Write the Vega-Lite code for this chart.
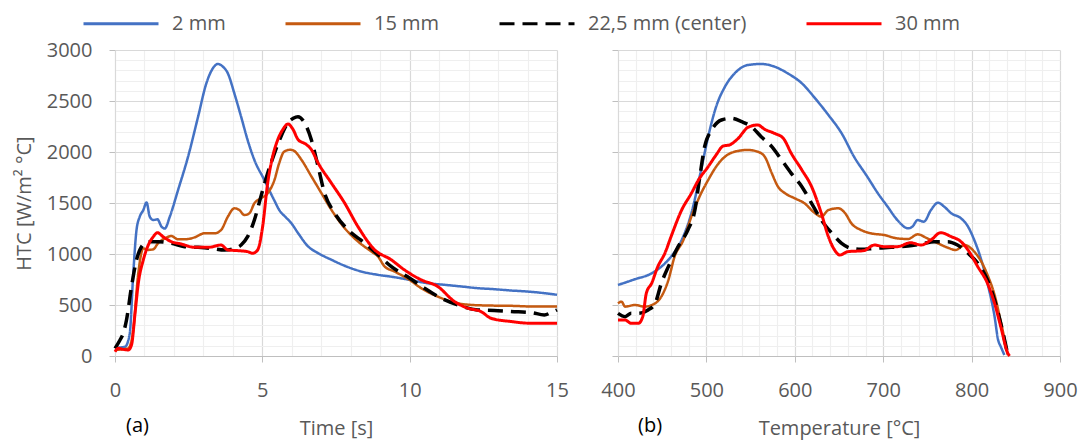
{
  "$schema": "https://vega.github.io/schema/vega-lite/v6.json",
  "padding": {"left": 14, "top": 12, "right": 5, "bottom": 2},
  "config": {
    "font": "Open Sans",
    "view": {"stroke": null},
    "axis": {
      "labelFont": "Open Sans", "labelFontSize": 20, "labelColor": "#595959",
      "titleFont": "Open Sans", "titleFontSize": 20, "titleColor": "#595959", "titleFontWeight": "normal",
      "domainColor": "#bfbfbf", "tickColor": "#bfbfbf", "labelFlush": false, "labelOverlap": false,
      "gridWidth": 1.2
    },
    "legend": {
      "orient": "none", "legendX": -33, "legendY": -38, "direction": "horizontal",
      "symbolType": "M-1,0H6.5", "symbolSize": 400,
      "symbolStrokeWidth": 3, "labelFont": "Open Sans", "labelFontSize": 20, "labelColor": "#595959",
      "columnPadding": 53, "labelOffset": 67, "padding": 0
    },
    "title": {"font": "Open Sans", "fontSize": 20, "fontWeight": "normal", "color": "#000000"},
    "concat": {"spacing": 31}
  },
  "datasets": {
    "time": [
      {"series": "2 mm", "t": 0, "htc": 80}, {"series": "2 mm", "t": 0.34, "htc": 90}, {"series": "2 mm", "t": 0.5, "htc": 220},
      {"series": "2 mm", "t": 0.62, "htc": 810}, {"series": "2 mm", "t": 0.73, "htc": 1235}, {"series": "2 mm", "t": 0.84, "htc": 1366},
      {"series": "2 mm", "t": 0.96, "htc": 1430}, {"series": "2 mm", "t": 1.07, "htc": 1506}, {"series": "2 mm", "t": 1.18, "htc": 1366},
      {"series": "2 mm", "t": 1.3, "htc": 1333}, {"series": "2 mm", "t": 1.44, "htc": 1340}, {"series": "2 mm", "t": 1.58, "htc": 1268},
      {"series": "2 mm", "t": 1.69, "htc": 1250}, {"series": "2 mm", "t": 1.86, "htc": 1366}, {"series": "2 mm", "t": 2.14, "htc": 1627},
      {"series": "2 mm", "t": 2.48, "htc": 1954}, {"series": "2 mm", "t": 2.82, "htc": 2346}, {"series": "2 mm", "t": 3.1, "htc": 2673},
      {"series": "2 mm", "t": 3.32, "htc": 2820}, {"series": "2 mm", "t": 3.49, "htc": 2863}, {"series": "2 mm", "t": 3.66, "htc": 2837},
      {"series": "2 mm", "t": 3.83, "htc": 2771}, {"series": "2 mm", "t": 4.05, "htc": 2575}, {"series": "2 mm", "t": 4.28, "htc": 2346},
      {"series": "2 mm", "t": 4.5, "htc": 2118}, {"series": "2 mm", "t": 4.73, "htc": 1922}, {"series": "2 mm", "t": 5.07, "htc": 1725},
      {"series": "2 mm", "t": 5.4, "htc": 1529}, {"series": "2 mm", "t": 5.6, "htc": 1420}, {"series": "2 mm", "t": 5.76, "htc": 1370},
      {"series": "2 mm", "t": 5.98, "htc": 1304}, {"series": "2 mm", "t": 6.21, "htc": 1206}, {"series": "2 mm", "t": 6.55, "htc": 1075},
      {"series": "2 mm", "t": 6.89, "htc": 1009}, {"series": "2 mm", "t": 7.34, "htc": 944}, {"series": "2 mm", "t": 7.79, "htc": 885},
      {"series": "2 mm", "t": 8.35, "htc": 829}, {"series": "2 mm", "t": 8.92, "htc": 796}, {"series": "2 mm", "t": 9.48, "htc": 773},
      {"series": "2 mm", "t": 9.99, "htc": 747}, {"series": "2 mm", "t": 10.6, "htc": 714}, {"series": "2 mm", "t": 11.18, "htc": 698},
      {"series": "2 mm", "t": 11.74, "htc": 682}, {"series": "2 mm", "t": 12.31, "htc": 665}, {"series": "2 mm", "t": 12.87, "htc": 655},
      {"series": "2 mm", "t": 13.44, "htc": 642}, {"series": "2 mm", "t": 14.0, "htc": 632}, {"series": "2 mm", "t": 14.57, "htc": 616},
      {"series": "2 mm", "t": 15, "htc": 600},

      {"series": "15 mm", "t": 0, "htc": 60}, {"series": "15 mm", "t": 0.45, "htc": 75}, {"series": "15 mm", "t": 0.62, "htc": 255},
      {"series": "15 mm", "t": 0.79, "htc": 810}, {"series": "15 mm", "t": 0.96, "htc": 1055}, {"series": "15 mm", "t": 1.13, "htc": 1040},
      {"series": "15 mm", "t": 1.3, "htc": 1046}, {"series": "15 mm", "t": 1.46, "htc": 1105}, {"series": "15 mm", "t": 1.69, "htc": 1153},
      {"series": "15 mm", "t": 1.91, "htc": 1176}, {"series": "15 mm", "t": 2.14, "htc": 1144}, {"series": "15 mm", "t": 2.36, "htc": 1144},
      {"series": "15 mm", "t": 2.7, "htc": 1163}, {"series": "15 mm", "t": 3.04, "htc": 1203}, {"series": "15 mm", "t": 3.38, "htc": 1203},
      {"series": "15 mm", "t": 3.6, "htc": 1235}, {"series": "15 mm", "t": 3.83, "htc": 1366}, {"series": "15 mm", "t": 4.05, "htc": 1448},
      {"series": "15 mm", "t": 4.22, "htc": 1431}, {"series": "15 mm", "t": 4.39, "htc": 1382}, {"series": "15 mm", "t": 4.56, "htc": 1399},
      {"series": "15 mm", "t": 4.73, "htc": 1497}, {"series": "15 mm", "t": 4.95, "htc": 1546}, {"series": "15 mm", "t": 5.18, "htc": 1595},
      {"series": "15 mm", "t": 5.41, "htc": 1725}, {"series": "15 mm", "t": 5.57, "htc": 1889}, {"series": "15 mm", "t": 5.74, "htc": 2003},
      {"series": "15 mm", "t": 5.95, "htc": 2022}, {"series": "15 mm", "t": 6.09, "htc": 2009}, {"series": "15 mm", "t": 6.32, "htc": 1927},
      {"series": "15 mm", "t": 6.66, "htc": 1763}, {"series": "15 mm", "t": 7.0, "htc": 1599}, {"series": "15 mm", "t": 7.34, "htc": 1435},
      {"series": "15 mm", "t": 7.79, "htc": 1255}, {"series": "15 mm", "t": 8.24, "htc": 1124}, {"series": "15 mm", "t": 8.69, "htc": 1026},
      {"series": "15 mm", "t": 8.92, "htc": 977}, {"series": "15 mm", "t": 9.15, "htc": 878}, {"series": "15 mm", "t": 9.48, "htc": 829},
      {"series": "15 mm", "t": 9.99, "htc": 747}, {"series": "15 mm", "t": 10.39, "htc": 665}, {"series": "15 mm", "t": 10.95, "htc": 583},
      {"series": "15 mm", "t": 11.52, "htc": 524}, {"series": "15 mm", "t": 12.08, "htc": 501}, {"series": "15 mm", "t": 12.65, "htc": 495},
      {"series": "15 mm", "t": 13.44, "htc": 492}, {"series": "15 mm", "t": 14.23, "htc": 485}, {"series": "15 mm", "t": 15, "htc": 485},

      {"series": "22,5 mm (center)", "t": 0, "htc": 75}, {"series": "22,5 mm (center)", "t": 0.17, "htc": 157}, {"series": "22,5 mm (center)", "t": 0.28, "htc": 222},
      {"series": "22,5 mm (center)", "t": 0.39, "htc": 353}, {"series": "22,5 mm (center)", "t": 0.56, "htc": 680}, {"series": "22,5 mm (center)", "t": 0.73, "htc": 941},
      {"series": "22,5 mm (center)", "t": 0.9, "htc": 1072}, {"series": "22,5 mm (center)", "t": 1.13, "htc": 1121}, {"series": "22,5 mm (center)", "t": 1.46, "htc": 1121},
      {"series": "22,5 mm (center)", "t": 1.91, "htc": 1105}, {"series": "22,5 mm (center)", "t": 2.36, "htc": 1072}, {"series": "22,5 mm (center)", "t": 2.82, "htc": 1065},
      {"series": "22,5 mm (center)", "t": 3.27, "htc": 1055}, {"series": "22,5 mm (center)", "t": 3.72, "htc": 1039}, {"series": "22,5 mm (center)", "t": 4.05, "htc": 1055},
      {"series": "22,5 mm (center)", "t": 4.28, "htc": 1088}, {"series": "22,5 mm (center)", "t": 4.5, "htc": 1170}, {"series": "22,5 mm (center)", "t": 4.73, "htc": 1333},
      {"series": "22,5 mm (center)", "t": 4.95, "htc": 1562}, {"series": "22,5 mm (center)", "t": 5.18, "htc": 1791}, {"series": "22,5 mm (center)", "t": 5.41, "htc": 1987},
      {"series": "22,5 mm (center)", "t": 5.63, "htc": 2150}, {"series": "22,5 mm (center)", "t": 5.86, "htc": 2281}, {"series": "22,5 mm (center)", "t": 6.05, "htc": 2330},
      {"series": "22,5 mm (center)", "t": 6.21, "htc": 2346}, {"series": "22,5 mm (center)", "t": 6.43, "htc": 2287}, {"series": "22,5 mm (center)", "t": 6.66, "htc": 2123},
      {"series": "22,5 mm (center)", "t": 6.89, "htc": 1861}, {"series": "22,5 mm (center)", "t": 7.11, "htc": 1599}, {"series": "22,5 mm (center)", "t": 7.45, "htc": 1403},
      {"series": "22,5 mm (center)", "t": 7.9, "htc": 1239}, {"series": "22,5 mm (center)", "t": 8.47, "htc": 1108}, {"series": "22,5 mm (center)", "t": 8.92, "htc": 993},
      {"series": "22,5 mm (center)", "t": 9.37, "htc": 878}, {"series": "22,5 mm (center)", "t": 9.99, "htc": 764}, {"series": "22,5 mm (center)", "t": 10.5, "htc": 665},
      {"series": "22,5 mm (center)", "t": 11.07, "htc": 567}, {"series": "22,5 mm (center)", "t": 11.63, "htc": 501}, {"series": "22,5 mm (center)", "t": 12.31, "htc": 452},
      {"series": "22,5 mm (center)", "t": 12.87, "htc": 446}, {"series": "22,5 mm (center)", "t": 13.44, "htc": 436}, {"series": "22,5 mm (center)", "t": 14.12, "htc": 426},
      {"series": "22,5 mm (center)", "t": 14.57, "htc": 403}, {"series": "22,5 mm (center)", "t": 14.8, "htc": 426}, {"series": "22,5 mm (center)", "t": 15, "htc": 452},

      {"series": "30 mm", "t": 0, "htc": 42}, {"series": "30 mm", "t": 0.11, "htc": 75}, {"series": "30 mm", "t": 0.28, "htc": 65},
      {"series": "30 mm", "t": 0.45, "htc": 59}, {"series": "30 mm", "t": 0.56, "htc": 108}, {"series": "30 mm", "t": 0.68, "htc": 418},
      {"series": "30 mm", "t": 0.79, "htc": 712}, {"series": "30 mm", "t": 0.96, "htc": 941}, {"series": "30 mm", "t": 1.13, "htc": 1088},
      {"series": "30 mm", "t": 1.3, "htc": 1170}, {"series": "30 mm", "t": 1.44, "htc": 1209}, {"series": "30 mm", "t": 1.63, "htc": 1170},
      {"series": "30 mm", "t": 1.91, "htc": 1121}, {"series": "30 mm", "t": 2.25, "htc": 1098}, {"series": "30 mm", "t": 2.7, "htc": 1065},
      {"series": "30 mm", "t": 3.15, "htc": 1065}, {"series": "30 mm", "t": 3.6, "htc": 1088}, {"series": "30 mm", "t": 3.83, "htc": 1039},
      {"series": "30 mm", "t": 4.17, "htc": 1033}, {"series": "30 mm", "t": 4.5, "htc": 1023}, {"series": "30 mm", "t": 4.67, "htc": 1007},
      {"series": "30 mm", "t": 4.84, "htc": 1039}, {"series": "30 mm", "t": 5.01, "htc": 1268}, {"series": "30 mm", "t": 5.18, "htc": 1693},
      {"series": "30 mm", "t": 5.35, "htc": 1954}, {"series": "30 mm", "t": 5.52, "htc": 2118}, {"series": "30 mm", "t": 5.7, "htc": 2222},
      {"series": "30 mm", "t": 5.87, "htc": 2275}, {"series": "30 mm", "t": 6.04, "htc": 2222}, {"series": "30 mm", "t": 6.21, "htc": 2123},
      {"series": "30 mm", "t": 6.49, "htc": 2074}, {"series": "30 mm", "t": 6.66, "htc": 2025}, {"series": "30 mm", "t": 6.89, "htc": 1894},
      {"series": "30 mm", "t": 7.34, "htc": 1697}, {"series": "30 mm", "t": 7.79, "htc": 1501}, {"series": "30 mm", "t": 8.24, "htc": 1271},
      {"series": "30 mm", "t": 8.81, "htc": 1042}, {"series": "30 mm", "t": 9.37, "htc": 944}, {"series": "30 mm", "t": 9.82, "htc": 845},
      {"series": "30 mm", "t": 10.39, "htc": 747}, {"series": "30 mm", "t": 10.95, "htc": 682}, {"series": "30 mm", "t": 11.52, "htc": 534},
      {"series": "30 mm", "t": 11.97, "htc": 469}, {"series": "30 mm", "t": 12.42, "htc": 436}, {"series": "30 mm", "t": 12.76, "htc": 370},
      {"series": "30 mm", "t": 13.44, "htc": 338}, {"series": "30 mm", "t": 14.12, "htc": 321}, {"series": "30 mm", "t": 15, "htc": 321}
    ],
    "temp": [
      {"series": "2 mm", "temp": 400, "htc": 696}, {"series": "2 mm", "temp": 419, "htc": 752}, {"series": "2 mm", "temp": 438, "htc": 810},
      {"series": "2 mm", "temp": 449, "htc": 876}, {"series": "2 mm", "temp": 460, "htc": 974}, {"series": "2 mm", "temp": 472, "htc": 1137},
      {"series": "2 mm", "temp": 483, "htc": 1399}, {"series": "2 mm", "temp": 494, "htc": 1824}, {"series": "2 mm", "temp": 502, "htc": 2150},
      {"series": "2 mm", "temp": 511, "htc": 2444}, {"series": "2 mm", "temp": 521, "htc": 2640}, {"series": "2 mm", "temp": 532, "htc": 2771},
      {"series": "2 mm", "temp": 547, "htc": 2853}, {"series": "2 mm", "temp": 562, "htc": 2863}, {"series": "2 mm", "temp": 577, "htc": 2837},
      {"series": "2 mm", "temp": 592, "htc": 2771}, {"series": "2 mm", "temp": 608, "htc": 2673}, {"series": "2 mm", "temp": 623, "htc": 2526},
      {"series": "2 mm", "temp": 638, "htc": 2363}, {"series": "2 mm", "temp": 653, "htc": 2183}, {"series": "2 mm", "temp": 667, "htc": 1954},
      {"series": "2 mm", "temp": 682, "htc": 1758}, {"series": "2 mm", "temp": 694, "htc": 1595}, {"series": "2 mm", "temp": 705, "htc": 1464},
      {"series": "2 mm", "temp": 716, "htc": 1333}, {"series": "2 mm", "temp": 728, "htc": 1252}, {"series": "2 mm", "temp": 733, "htc": 1268},
      {"series": "2 mm", "temp": 739, "htc": 1333}, {"series": "2 mm", "temp": 746, "htc": 1317}, {"series": "2 mm", "temp": 754, "htc": 1431},
      {"series": "2 mm", "temp": 762, "htc": 1503}, {"series": "2 mm", "temp": 769, "htc": 1464}, {"series": "2 mm", "temp": 777, "htc": 1399},
      {"series": "2 mm", "temp": 788, "htc": 1350}, {"series": "2 mm", "temp": 796, "htc": 1268}, {"series": "2 mm", "temp": 803, "htc": 1137},
      {"series": "2 mm", "temp": 811, "htc": 941}, {"series": "2 mm", "temp": 818, "htc": 712}, {"series": "2 mm", "temp": 826, "htc": 386},
      {"series": "2 mm", "temp": 830, "htc": 157}, {"series": "2 mm", "temp": 833, "htc": 92}, {"series": "2 mm", "temp": 837, "htc": 10},

      {"series": "15 mm", "temp": 400, "htc": 516}, {"series": "15 mm", "temp": 404, "htc": 533}, {"series": "15 mm", "temp": 408, "htc": 484},
      {"series": "15 mm", "temp": 419, "htc": 500}, {"series": "15 mm", "temp": 430, "htc": 484}, {"series": "15 mm", "temp": 442, "htc": 516},
      {"series": "15 mm", "temp": 449, "htc": 582}, {"series": "15 mm", "temp": 457, "htc": 745}, {"series": "15 mm", "temp": 464, "htc": 974},
      {"series": "15 mm", "temp": 474, "htc": 1137}, {"series": "15 mm", "temp": 483, "htc": 1366}, {"series": "15 mm", "temp": 494, "htc": 1595},
      {"series": "15 mm", "temp": 502, "htc": 1725}, {"series": "15 mm", "temp": 511, "htc": 1856}, {"series": "15 mm", "temp": 521, "htc": 1954},
      {"series": "15 mm", "temp": 532, "htc": 2003}, {"series": "15 mm", "temp": 547, "htc": 2020}, {"series": "15 mm", "temp": 558, "htc": 2003},
      {"series": "15 mm", "temp": 566, "htc": 1954}, {"series": "15 mm", "temp": 574, "htc": 1791}, {"series": "15 mm", "temp": 581, "htc": 1660},
      {"series": "15 mm", "temp": 589, "htc": 1595}, {"series": "15 mm", "temp": 600, "htc": 1546}, {"series": "15 mm", "temp": 611, "htc": 1497},
      {"series": "15 mm", "temp": 623, "htc": 1399}, {"series": "15 mm", "temp": 630, "htc": 1366}, {"series": "15 mm", "temp": 638, "htc": 1431},
      {"series": "15 mm", "temp": 649, "htc": 1448}, {"series": "15 mm", "temp": 657, "htc": 1399}, {"series": "15 mm", "temp": 664, "htc": 1301},
      {"series": "15 mm", "temp": 675, "htc": 1235}, {"series": "15 mm", "temp": 686, "htc": 1203}, {"series": "15 mm", "temp": 701, "htc": 1186},
      {"series": "15 mm", "temp": 716, "htc": 1153}, {"series": "15 mm", "temp": 728, "htc": 1147}, {"series": "15 mm", "temp": 739, "htc": 1193},
      {"series": "15 mm", "temp": 750, "htc": 1153}, {"series": "15 mm", "temp": 762, "htc": 1104}, {"series": "15 mm", "temp": 773, "htc": 1062},
      {"series": "15 mm", "temp": 782, "htc": 1039}, {"series": "15 mm", "temp": 792, "htc": 1088}, {"series": "15 mm", "temp": 803, "htc": 1023},
      {"series": "15 mm", "temp": 811, "htc": 925}, {"series": "15 mm", "temp": 818, "htc": 794}, {"series": "15 mm", "temp": 826, "htc": 598},
      {"series": "15 mm", "temp": 833, "htc": 337}, {"series": "15 mm", "temp": 841, "htc": 10},

      {"series": "22,5 mm (center)", "temp": 400, "htc": 418}, {"series": "22,5 mm (center)", "temp": 408, "htc": 386}, {"series": "22,5 mm (center)", "temp": 415, "htc": 418},
      {"series": "22,5 mm (center)", "temp": 423, "htc": 418}, {"series": "22,5 mm (center)", "temp": 434, "htc": 451}, {"series": "22,5 mm (center)", "temp": 442, "htc": 516},
      {"series": "22,5 mm (center)", "temp": 449, "htc": 712}, {"series": "22,5 mm (center)", "temp": 457, "htc": 876}, {"series": "22,5 mm (center)", "temp": 468, "htc": 1072},
      {"series": "22,5 mm (center)", "temp": 479, "htc": 1235}, {"series": "22,5 mm (center)", "temp": 487, "htc": 1431}, {"series": "22,5 mm (center)", "temp": 492, "htc": 1725},
      {"series": "22,5 mm (center)", "temp": 498, "htc": 2052}, {"series": "22,5 mm (center)", "temp": 506, "htc": 2216}, {"series": "22,5 mm (center)", "temp": 517, "htc": 2314},
      {"series": "22,5 mm (center)", "temp": 528, "htc": 2330}, {"series": "22,5 mm (center)", "temp": 540, "htc": 2297}, {"series": "22,5 mm (center)", "temp": 551, "htc": 2248},
      {"series": "22,5 mm (center)", "temp": 562, "htc": 2150}, {"series": "22,5 mm (center)", "temp": 574, "htc": 2052}, {"series": "22,5 mm (center)", "temp": 585, "htc": 1922},
      {"series": "22,5 mm (center)", "temp": 596, "htc": 1791}, {"series": "22,5 mm (center)", "temp": 608, "htc": 1660}, {"series": "22,5 mm (center)", "temp": 619, "htc": 1497},
      {"series": "22,5 mm (center)", "temp": 630, "htc": 1333}, {"series": "22,5 mm (center)", "temp": 642, "htc": 1203}, {"series": "22,5 mm (center)", "temp": 653, "htc": 1105},
      {"series": "22,5 mm (center)", "temp": 664, "htc": 1055}, {"series": "22,5 mm (center)", "temp": 675, "htc": 1046}, {"series": "22,5 mm (center)", "temp": 690, "htc": 1055},
      {"series": "22,5 mm (center)", "temp": 709, "htc": 1065}, {"series": "22,5 mm (center)", "temp": 728, "htc": 1078}, {"series": "22,5 mm (center)", "temp": 743, "htc": 1098},
      {"series": "22,5 mm (center)", "temp": 758, "htc": 1121}, {"series": "22,5 mm (center)", "temp": 773, "htc": 1121}, {"series": "22,5 mm (center)", "temp": 784, "htc": 1088},
      {"series": "22,5 mm (center)", "temp": 796, "htc": 1007}, {"series": "22,5 mm (center)", "temp": 807, "htc": 910}, {"series": "22,5 mm (center)", "temp": 818, "htc": 745},
      {"series": "22,5 mm (center)", "temp": 826, "htc": 549}, {"series": "22,5 mm (center)", "temp": 833, "htc": 320}, {"series": "22,5 mm (center)", "temp": 841, "htc": 10},

      {"series": "30 mm", "temp": 400, "htc": 353}, {"series": "30 mm", "temp": 408, "htc": 353}, {"series": "30 mm", "temp": 415, "htc": 320},
      {"series": "30 mm", "temp": 423, "htc": 320}, {"series": "30 mm", "temp": 428, "htc": 386}, {"series": "30 mm", "temp": 432, "htc": 614},
      {"series": "30 mm", "temp": 438, "htc": 712}, {"series": "30 mm", "temp": 445, "htc": 876}, {"series": "30 mm", "temp": 453, "htc": 1007},
      {"series": "30 mm", "temp": 460, "htc": 1170}, {"series": "30 mm", "temp": 472, "htc": 1431}, {"series": "30 mm", "temp": 483, "htc": 1595},
      {"series": "30 mm", "temp": 491, "htc": 1725}, {"series": "30 mm", "temp": 502, "htc": 1856}, {"series": "30 mm", "temp": 511, "htc": 1971},
      {"series": "30 mm", "temp": 519, "htc": 2059}, {"series": "30 mm", "temp": 526, "htc": 2069}, {"series": "30 mm", "temp": 536, "htc": 2134},
      {"series": "30 mm", "temp": 547, "htc": 2242}, {"series": "30 mm", "temp": 558, "htc": 2265}, {"series": "30 mm", "temp": 566, "htc": 2222},
      {"series": "30 mm", "temp": 577, "htc": 2183}, {"series": "30 mm", "temp": 587, "htc": 2134}, {"series": "30 mm", "temp": 596, "htc": 1987},
      {"series": "30 mm", "temp": 608, "htc": 1824}, {"series": "30 mm", "temp": 619, "htc": 1660}, {"series": "30 mm", "temp": 630, "htc": 1399},
      {"series": "30 mm", "temp": 638, "htc": 1170}, {"series": "30 mm", "temp": 645, "htc": 1039}, {"series": "30 mm", "temp": 651, "htc": 990},
      {"series": "30 mm", "temp": 660, "htc": 1023}, {"series": "30 mm", "temp": 678, "htc": 1033}, {"series": "30 mm", "temp": 690, "htc": 1088},
      {"series": "30 mm", "temp": 701, "htc": 1072}, {"series": "30 mm", "temp": 716, "htc": 1072}, {"series": "30 mm", "temp": 731, "htc": 1111},
      {"series": "30 mm", "temp": 743, "htc": 1088}, {"series": "30 mm", "temp": 754, "htc": 1137}, {"series": "30 mm", "temp": 765, "htc": 1209},
      {"series": "30 mm", "temp": 777, "htc": 1170}, {"series": "30 mm", "temp": 788, "htc": 1121}, {"series": "30 mm", "temp": 796, "htc": 1039},
      {"series": "30 mm", "temp": 807, "htc": 876}, {"series": "30 mm", "temp": 818, "htc": 712}, {"series": "30 mm", "temp": 826, "htc": 516},
      {"series": "30 mm", "temp": 833, "htc": 288}, {"series": "30 mm", "temp": 841, "htc": 26}, {"series": "30 mm", "temp": 843, "htc": 0}
    ]
  },
  "hconcat": [
    {
      "width": 442, "height": 306,
      "data": {"name": "time"},
      "title": {"text": "(a)", "orient": "bottom", "anchor": "start", "frame": "group", "dx": 11, "offset": -22},
      "encoding": {
        "x": {"field": "t", "type": "quantitative",
          "scale": {"domain": [0, 15], "nice": false, "zero": false},
          "axis": {
            "values": [0,1,2,3,4,5,6,7,8,9,10,11,12,13,14,15],
            "labelExpr": "datum.value % 5 === 0 ? datum.label : ''",
            "gridColor": {"condition": {"test": "datum.value % 5 === 0", "value": "#d9d9d9"}, "value": "#efefef"},
            "tickOpacity": {"condition": {"test": "datum.value % 5 === 0", "value": 1}, "value": 0},
            "tickSize": 6, "labelPadding": 18, "titlePadding": 18,
            "title": "Time [s]"
          }},
        "y": {"field": "htc", "type": "quantitative",
          "scale": {"domain": [0, 3000], "nice": false},
          "axis": {
            "values": [0,100,200,300,400,500,600,700,800,900,1000,1100,1200,1300,1400,1500,1600,1700,1800,1900,2000,2100,2200,2300,2400,2500,2600,2700,2800,2900,3000],
            "format": "d",
            "labelExpr": "datum.value % 500 === 0 ? datum.label : ''",
            "gridColor": {"condition": {"test": "datum.value % 500 === 0", "value": "#d9d9d9"}, "value": "#efefef"},
            "tickOpacity": {"condition": {"test": "datum.value % 500 === 0", "value": 1}, "value": 0},
            "tickSize": 6, "labelPadding": 17, "titlePadding": 12, "domainColor": "#d9d9d9",
            "title": "HTC [W/m² °C]"
          }},
        "color": {"field": "series", "type": "nominal",
          "scale": {"domain": ["2 mm", "15 mm", "22,5 mm (center)", "30 mm"], "range": ["#4472C4", "#C55A11", "#000000", "#FF0000"]},
          "legend": {"title": null}},
        "strokeDash": {"field": "series", "type": "nominal",
          "scale": {"domain": ["2 mm", "15 mm", "22,5 mm (center)", "30 mm"], "range": [[1, 0], [1, 0], [15, 8], [1, 0]]},
          "legend": {"title": null}}
      },
      "layer": [
        {"transform": [{"filter": "datum.series === '2 mm' || datum.series === '15 mm'"}],
         "mark": {"type": "line", "strokeWidth": 2.5, "interpolate": "monotone"}},
        {"transform": [{"filter": "datum.series === '22,5 mm (center)'"}],
         "mark": {"type": "line", "strokeWidth": 3.5, "interpolate": "monotone"}},
        {"transform": [{"filter": "datum.series === '30 mm'"}],
         "mark": {"type": "line", "strokeWidth": 3, "interpolate": "monotone"}}
      ]
    },
    {
      "width": 442, "height": 306,
      "data": {"name": "temp"},
      "title": {"text": "(b)", "orient": "bottom", "anchor": "start", "frame": "group", "dx": 20, "offset": -22},
      "encoding": {
        "x": {"field": "temp", "type": "quantitative",
          "scale": {"domain": [400, 900], "nice": false, "zero": false},
          "axis": {
            "values": [400,420,440,460,480,500,520,540,560,580,600,620,640,660,680,700,720,740,760,780,800,820,840,860,880,900],
            "labelExpr": "datum.value % 100 === 0 ? datum.label : ''",
            "gridColor": {"condition": {"test": "datum.value % 100 === 0", "value": "#d9d9d9"}, "value": "#efefef"},
            "tickOpacity": {"condition": {"test": "datum.value % 100 === 0", "value": 1}, "value": 0},
            "tickSize": 6, "labelPadding": 18, "titlePadding": 18,
            "title": "Temperature [°C]"
          }},
        "y": {"field": "htc", "type": "quantitative",
          "scale": {"domain": [0, 3000], "nice": false},
          "axis": {
            "values": [0,100,200,300,400,500,600,700,800,900,1000,1100,1200,1300,1400,1500,1600,1700,1800,1900,2000,2100,2200,2300,2400,2500,2600,2700,2800,2900,3000],
            "labels": false, "title": null,
            "gridColor": {"condition": {"test": "datum.value % 500 === 0", "value": "#d9d9d9"}, "value": "#efefef"},
            "tickOpacity": {"condition": {"test": "datum.value % 500 === 0", "value": 1}, "value": 0},
            "tickSize": 6, "domainColor": "#d9d9d9"
          }},
        "color": {"field": "series", "type": "nominal",
          "scale": {"domain": ["2 mm", "15 mm", "22,5 mm (center)", "30 mm"], "range": ["#4472C4", "#C55A11", "#000000", "#FF0000"]},
          "legend": {"title": null}},
        "strokeDash": {"field": "series", "type": "nominal",
          "scale": {"domain": ["2 mm", "15 mm", "22,5 mm (center)", "30 mm"], "range": [[1, 0], [1, 0], [15, 8], [1, 0]]},
          "legend": {"title": null}}
      },
      "layer": [
        {"transform": [{"filter": "datum.series === '2 mm' || datum.series === '15 mm'"}],
         "mark": {"type": "line", "strokeWidth": 2.5, "interpolate": "monotone"}},
        {"transform": [{"filter": "datum.series === '22,5 mm (center)'"}],
         "mark": {"type": "line", "strokeWidth": 3.5, "interpolate": "monotone"}},
        {"transform": [{"filter": "datum.series === '30 mm'"}],
         "mark": {"type": "line", "strokeWidth": 3, "interpolate": "monotone"}}
      ]
    }
  ]
}
